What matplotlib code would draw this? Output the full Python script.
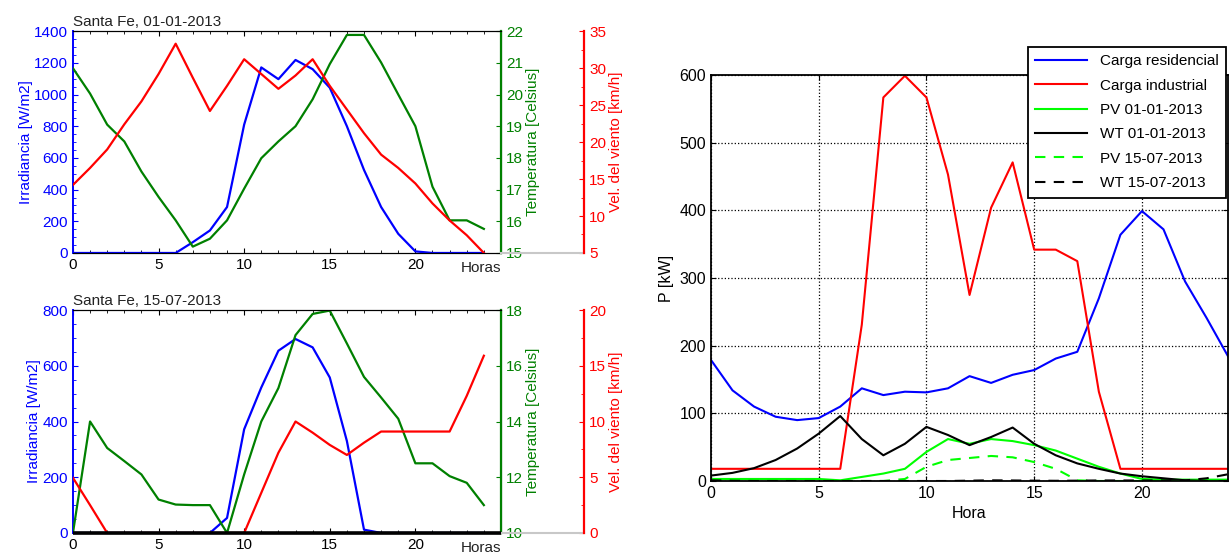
import matplotlib
matplotlib.use("Agg")
import matplotlib.pyplot as plt
from matplotlib.ticker import MultipleLocator

plt.rcParams['font.family'] = ['Liberation Sans', 'DejaVu Sans']
plt.rcParams['font.size'] = 11

horas = list(range(25))

# Santa Fe 01-01-2013
irr_ene = [0, 0, 0, 0, 0, 0, 0, 68, 142, 290, 810, 1171, 1097, 1218, 1160, 1043,
           800, 524, 290, 121, 10, 0, 0, 0, 0]
temp_ene = [20.83, 20.03, 19.05, 18.52, 17.57, 16.77, 16.03, 15.2, 15.45, 16.03, 17.03,
            17.99, 18.52, 19.0, 19.85, 20.96, 21.88, 21.88, 21.01, 20.0, 19.0, 17.09,
            16.03, 16.03, 15.76]
viento_ene = [14.2, 16.5, 19.0, 22.4, 25.5, 29.2, 33.3, 28.7, 24.2, 27.6, 31.2, 29.2,
              27.2, 29.0, 31.2, 27.6, 24.4, 21.2, 18.3, 16.5, 14.4, 11.7, 9.4, 7.4, 5.0]

# Santa Fe 15-07-2013
irr_jul = [0, 0, 0, 0, 0, 0, 0, 0, 0, 54, 372, 522, 654, 696, 666, 558, 330, 12, 0,
           0, 0, 0, 0, 0, 0]
temp_jul = [10.0, 14.0, 13.05, 12.58, 12.1, 11.2, 11.02, 11.0, 11.0, 10.0, 12.1, 14.0,
            15.2, 17.1, 17.86, 17.98, 16.8, 15.6, 14.86, 14.1, 12.5, 12.5, 12.04, 11.8,
            11.0]
viento_jul = [4.95, 2.5, 0, 0, 0, 0, 0, 0, 0, 0, 0, 3.6, 7.2, 10.0, 9.0, 7.9, 7.0, 8.1,
              9.1, 9.1, 9.1, 9.1, 9.1, 12.3, 15.9]

# Potencias
carga_res = [179, 134, 110, 95, 90, 93, 110, 137, 127, 132, 131, 137, 155, 145, 157,
             164, 181, 191, 270, 364, 399, 372, 295, 241, 184]
carga_ind = [18, 18, 18, 18, 18, 18, 18, 231, 567, 599, 567, 453, 275, 404, 471, 342,
             342, 325, 132, 18, 18, 18, 18, 18, 18]
pv_ene = [3, 3, 3, 3, 3, 3, 1, 6, 11, 18, 43, 62, 55, 62, 59, 53, 45, 33, 21, 11, 3, 2,
          2, 2, 2]
wt_ene = [8, 12, 19, 31, 48, 70, 96, 62, 38, 55, 80, 68, 53, 65, 79, 55, 38, 26, 18, 11,
          7, 4, 1, 0, 0]
pv_jul = [0, 0, 0, 0, 0, 0, 0, 0, 0, 3, 21, 31, 34, 37, 35, 28, 18, 1, 0, 0, 0, 0, 0, 0, 0]
wt_jul = [1, 0.3, 0, 0, 0, 0, 0, 0, 0, 0, 0, 0, 0.5, 1, 0.8, 0.5, 0.3, 0.5, 0.8, 0.8, 0.8,
          0.8, 0.8, 4, 10]

azul = (0, 0, 1)
verde = (0, 0.5, 0)
rojo = (1, 0, 0)


def panel(pos, titulo, irr, temp, viento, irr_max, t_lim, v_lim, t_step, tapar_cero):
    ax = fig.add_axes(pos)
    ax.plot(horas, irr, color=azul, lw=1.6)
    ax.set_xlim(0, 25)
    ax.set_ylim(0, irr_max)
    ax.set_xticks([0, 5, 10, 15, 20])
    ax.xaxis.set_minor_locator(MultipleLocator(1))
    ax.yaxis.set_major_locator(MultipleLocator(200))
    ax.yaxis.set_minor_locator(MultipleLocator(50))
    ax.tick_params(which='both', direction='in', top=True)
    ax.tick_params(axis='y', which='both', colors=azul)
    ax.tick_params(axis='x', which='minor', length=2.5)
    ax.spines['left'].set_color(azul)
    ax.spines['left'].set_linewidth(1.4)
    ax.set_ylabel('Irradiancia [W/m2]', color=azul, labelpad=1)
    ax.text(0.0, 1.01, titulo, transform=ax.transAxes, ha='left', va='bottom',
            fontsize=11, color='#222222')
    ax.text(1.0, -0.035, 'Horas', transform=ax.transAxes, ha='right', va='top',
            fontsize=11, color='#222222')

    ax2 = ax.twinx()
    ax2.plot(horas, temp, color=verde, lw=1.6)
    ax2.set_ylim(*t_lim)
    ax2.yaxis.set_major_locator(MultipleLocator(t_step))
    ax2.tick_params(which='both', direction='in', colors=verde)
    ax2.spines['right'].set_color(verde)
    ax2.spines['right'].set_linewidth(1.6)
    ax2.spines['left'].set_visible(False)
    ax2.set_ylabel('Temperatura [Celsius]', color=verde, labelpad=2)

    ax3 = ax.twinx()
    ax3.spines['right'].set_position(('axes', 1.195))
    ax3.plot(horas, viento, color=rojo, lw=1.6)
    ax3.set_ylim(*v_lim)
    ax3.yaxis.set_major_locator(MultipleLocator(5))
    ax3.yaxis.set_minor_locator(MultipleLocator(2.5))
    ax3.tick_params(which='both', direction='in', colors=rojo)
    ax3.spines['right'].set_color(rojo)
    ax3.spines['right'].set_linewidth(1.6)
    for s in ['left', 'top', 'bottom']:
        ax3.spines[s].set_visible(False)
    if tapar_cero:
        # el eje inferior negro queda por encima de las curvas en cero
        ax3.plot([0, 1], [0, 0], transform=ax3.transAxes, color='black', lw=2.6,
                 zorder=5, clip_on=False, solid_capstyle='butt')
    ax3.set_ylabel('Vel. del viento [km/h]', color=rojo, labelpad=2)
    ax3.plot([1.0, 1.195], [0, 0], transform=ax.transAxes, color='#c8c8c8',
             lw=1.5, clip_on=False)
    return ax


fig = plt.figure(figsize=(12.3, 5.56), dpi=100)

panel([0.0593, 0.545, 0.348, 0.399], 'Santa Fe, 01-01-2013', irr_ene, temp_ene,
      viento_ene, 1400, (15, 22), (5, 35), 1, False)
panel([0.0593, 0.0414, 0.348, 0.401], 'Santa Fe, 15-07-2013', irr_jul, temp_jul,
      viento_jul, 800, (10, 18), (0, 20), 2, True)

axp = fig.add_axes([0.578, 0.1349, 0.4205, 0.730])
axp.plot(horas, carga_res, color=azul, lw=1.5, label='Carga residencial')
axp.plot(horas, carga_ind, color=rojo, lw=1.5, label='Carga industrial')
axp.plot(horas, pv_ene, color=(0, 1, 0), lw=1.5, label='PV 01-01-2013')
axp.plot(horas, wt_ene, color='black', lw=1.5, label='WT 01-01-2013')
axp.plot(horas, pv_jul, color=(0, 1, 0), lw=1.5, ls=(0, (5, 4)), label='PV 15-07-2013')
axp.plot(horas, wt_jul, color='black', lw=1.5, ls=(0, (5, 4)), label='WT 15-07-2013')
axp.set_xlim(0, 24)
axp.set_ylim(0, 600)
axp.set_xticks([0, 5, 10, 15, 20])
axp.set_yticks(range(0, 601, 100))
axp.grid(True, ls=':', color='black', lw=0.9)
axp.tick_params(direction='in', top=True, right=True, labelsize=11.5)
for s in axp.spines.values():
    s.set_linewidth(1.3)
axp.set_xlabel('Hora', fontsize=11.5)
axp.set_ylabel('P [kW]', fontsize=11.5)
leg = axp.legend(loc='upper right', bbox_to_anchor=(1.003, 0.93),
                 bbox_transform=fig.transFigure, fancybox=False, framealpha=1,
                 edgecolor='black', fontsize=11, handlelength=3.4,
                 labelspacing=0.68, borderpad=0.5)
leg.get_frame().set_linewidth(1.3)

fig.savefig('out.png', dpi=100)
